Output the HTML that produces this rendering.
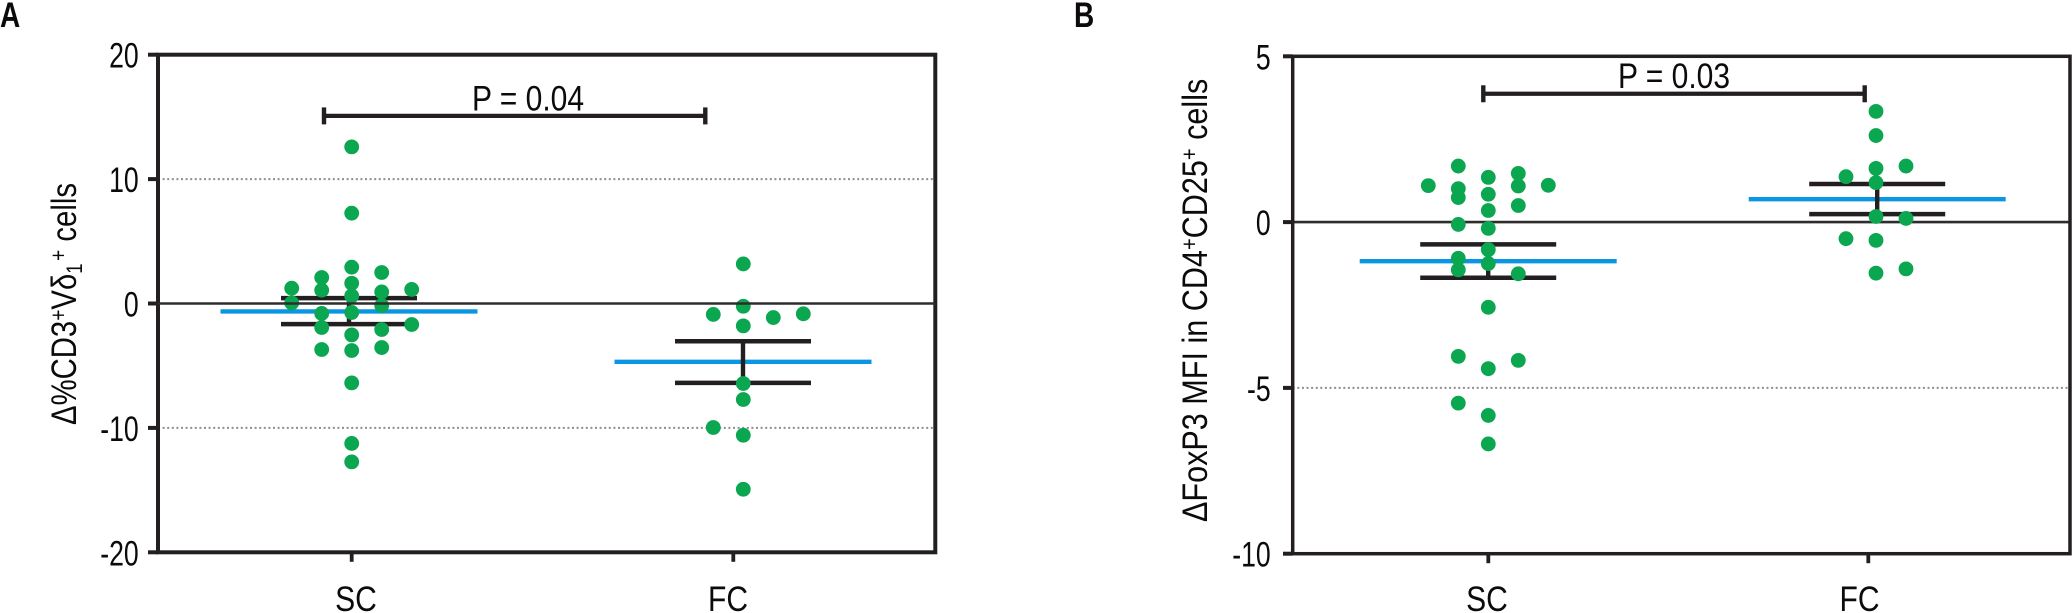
<!DOCTYPE html>
<html lang="en">
<head>
<meta charset="utf-8">
<title>Change in cell populations, SC vs FC</title>
<style>
html,body{margin:0;padding:0;background:#fff;width:2072px;height:613px;overflow:hidden}
svg{display:block}
text{font-family:"Liberation Sans",sans-serif;fill:#0c0a0b}
</style>
</head>
<body>
<svg id="chart" xmlns="http://www.w3.org/2000/svg" width="2072" height="613" viewBox="0 0 2072 613">
  <text transform="translate(0,27) scale(.8,1)" font-size="35" font-weight="bold">A</text>
  <text transform="translate(1074,27) scale(.8,1)" font-size="35" font-weight="bold">B</text>
  <text transform="translate(76,425) rotate(-90) scale(.837,1)" font-size="35">Δ%CD3<tspan font-size="23" dy="-10">+</tspan><tspan dy="10">Vδ</tspan><tspan font-size="22" dy="6">1</tspan><tspan font-size="23" dy="-16" dx="3">+</tspan><tspan dy="10"> cells</tspan></text>
  <text transform="translate(1207,522) rotate(-90) scale(.874,1)" font-size="35">ΔFoxP3 MFI in CD4<tspan font-size="23" dy="-10">+</tspan><tspan dy="10">CD25</tspan><tspan font-size="23" dy="-10">+</tspan><tspan dy="10"> cells</tspan></text>
  <text transform="translate(528,110.5) scale(.858,1)" font-size="35" text-anchor="middle">P = 0.04</text>
  <text transform="translate(1674,88) scale(.858,1)" font-size="35" text-anchor="middle">P = 0.03</text>
</svg>
<script>
var categories = ['SC', 'FC'];

// Panel A: change in %CD3+Vd1+ cells
var aTickLabels = [20, 10, 0, -10, -20];
var aScValues  = [1.23, 0.05, 2.09, 1.07, -0.80, -1.93, -3.70, 12.59, 7.26, 2.92, 1.63, 0.61, -0.72, -2.52, -3.78, -6.38, -11.25, -12.73, 2.49, 0.93, -0.16, -2.09, -3.54, 1.13, -1.69];
var aScColumns = [-2, -2, -1, -1, -1, -1, -1, 0, 0, 0, 0, 0, 0, 0, 0, 0, 0, 0, 1, 1, 1, 1, 1, 2, 2];
var aFcValues  = [3.18, -0.22, -1.80, -6.43, -7.72, -10.59, -14.93, -0.88, -9.97, -1.13, -0.83];
var aFcColumns = [0, 0, 0, 0, 0, 0, 0, -1, -1, 1, 2];
var aMeans  = [-0.64, -4.69];
var aUppers = [0.43, -3.03];
var aLowers = [-1.66, -6.38];
var aBracketValue = 15.08;

// Panel B: change in FoxP3 MFI in CD4+CD25+ cells
var bTickLabels = [5, 0, -5, -10];
var bScValues  = [1.10, 1.69, 1.01, 0.74, -0.07, -1.09, -1.44, -4.05, -5.46, 1.35, 0.84, 0.35, -0.19, -0.83, -1.25, -2.57, -4.42, -5.83, -6.69, 1.47, 1.09, 0.50, -1.56, -4.17, 1.11];
var bScColumns = [-2, -1, -1, -1, -1, -1, -1, -1, -1, 0, 0, 0, 0, 0, 0, 0, 0, 0, 0, 1, 1, 1, 1, 1, 2];
var bFcValues  = [3.34, 2.61, 1.62, 1.19, 0.17, -0.55, -1.54, 1.37, -0.50, 1.69, 0.11, -1.41];
var bFcColumns = [0, 0, 0, 0, 0, 0, 0, -1, -1, 1, 1, 1];
var bMeans  = [-1.18, 0.69];
var bUppers = [-0.67, 1.15];
var bLowers = [-1.68, 0.24];
var bBracketValue = 3.87;

var svg = document.getElementById('chart');
var NS = 'http://www.w3.org/2000/svg';
var INK = '#231f20', GREEN = '#0ba650', BLUE = '#0a96e2';

function make(tag, attrs) {
  var el = document.createElementNS(NS, tag);
  for (var k in attrs) el.setAttribute(k, attrs[k]);
  svg.appendChild(el);
  return el;
}
function line(x1, y1, x2, y2, color, width) {
  return make('line', {x1: x1, y1: y1, x2: x2, y2: y2, stroke: color, 'stroke-width': width});
}

function drawPanel(p) {
  function y(v) { return p.top + (p.max - v) / (p.max - p.min) * (p.bottom - p.top); }
  var el;

  // reference lines
  p.ticks.forEach(function (t) {
    if (t === p.max || t === p.min) return;
    if (t === 0) return;
    el = line(p.left, y(t), p.right, y(t), '#8f8d8e', 2);
    el.setAttribute('stroke-dasharray', '2 2.6');
    
    
  });

  function zeroLine() {
    el = line(p.left, y(0), p.right, y(0), '#2f2c2d', 2.6);
    
    
  }
  if (!p.zeroOnTop) zeroLine();

  // frame
  el = make('rect', {x: p.left, y: p.top, width: p.right - p.left, height: p.bottom - p.top, fill: 'none', stroke: INK, 'stroke-width': p.frameWidth});
  
  

  // y axis ticks and labels
  p.ticks.forEach(function (t) {
    el = line(p.tickLeft, y(t), p.left, y(t), INK, 4);
    
    
    el = make('text', {transform: 'translate(' + p.labelRight + ',' + (y(t) + 13) + ') scale(.76,1)', 'font-size': 35, 'text-anchor': 'end'});
    el.textContent = String(t);
    
    
  });

  // x axis ticks and labels
  categories.forEach(function (c, i) {
    el = line(p.tickX[i], p.bottom, p.tickX[i], p.bottom + 9.5, INK, 3.8);
    
    
    el = make('text', {transform: 'translate(' + p.labelX[i] + ',611) scale(.858,1)', 'font-size': 35, 'text-anchor': 'middle'});
    el.textContent = c;
    
    
  });

  // significance bracket
  var by = y(p.bracket);
  el = line(p.bracketX[0], by, p.bracketX[1], by, INK, 4.2);
  
  
  el = line(p.bracketX[0], by - 8.5, p.bracketX[0], by + 8.5, INK, 4.4);
  
  
  el = line(p.bracketX[1], by - 8.5, p.bracketX[1], by + 8.5, INK, 4.4);
  
  

  // mean and error bars
  categories.forEach(function (c, i) {
    var cx = p.summaryX[i];
    el = line(cx - 128.5, y(p.means[i]), cx + 128.5, y(p.means[i]), BLUE, 4.4);
    
    
    el = line(cx, y(p.uppers[i]), cx, y(p.lowers[i]), INK, 4.4);
    
    
    el = line(cx - 68, y(p.uppers[i]), cx + 68, y(p.uppers[i]), INK, 4.5);
    
    
    el = line(cx - 68, y(p.lowers[i]), cx + 68, y(p.lowers[i]), INK, 4.5);
    
    
  });

  // data points
  p.values.forEach(function (vals, i) {
    vals.forEach(function (v, j) {
      el = make('circle', {cx: p.dotX[i] + p.columns[i][j] * 30, cy: y(v), r: 7.4, fill: GREEN});
      
      
    });
  });

  if (p.zeroOnTop) zeroLine();
}

drawPanel({
  left: 158, right: 935.3, top: 54.7, bottom: 552.3, max: 20, min: -20, frameWidth: 4,
  tickLeft: 148, labelRight: 138.7, ticks: aTickLabels,
  tickX: [351.7, 733.3], labelX: [356, 728], summaryX: [349, 743], dotX: [351.7, 743.3],
  bracketX: [324, 705.3], bracket: aBracketValue,
  means: aMeans, uppers: aUppers, lowers: aLowers,
  values: [aScValues, aFcValues], columns: [aScColumns, aFcColumns], zeroOnTop: true
});

drawPanel({
  left: 1292.7, right: 2070, top: 56.3, bottom: 553.7, max: 5, min: -10, frameWidth: 3.5,
  tickLeft: 1283, labelRight: 1270.7, ticks: bTickLabels,
  tickX: [1488.3, 1868.3], labelX: [1487, 1859.5], summaryX: [1488.2, 1877.2], dotX: [1488.3, 1876],
  bracketX: [1483.3, 1864.7], bracket: bBracketValue,
  means: bMeans, uppers: bUppers, lowers: bLowers,
  values: [bScValues, bFcValues], columns: [bScColumns, bFcColumns], zeroOnTop: false
});
</script>
</body>
</html>
